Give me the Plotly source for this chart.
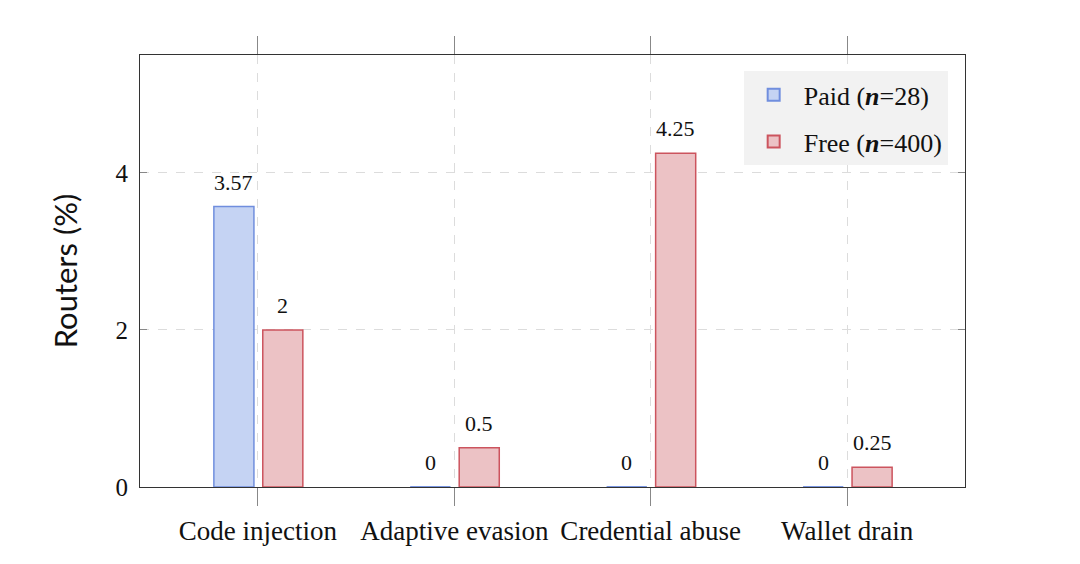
import plotly.graph_objects as go

categories = ["Code injection", "Adaptive evasion", "Credential abuse", "Wallet drain"]
paid_values = [3.57, 0, 0, 0]
free_values = [2, 0.5, 4.25, 0.25]
paid_label = "Paid (<b><i>n</i></b>=28)"
free_label = "Free (<b><i>n</i></b>=400)"
y_ticks = [0, 2, 4]

SERIF = "Liberation Serif"
BAR_W = 0.204
OFF_PAID = -0.224
OFF_FREE = 0.025

paid_fill, paid_line = "rgb(197,211,243)", "rgb(112,142,222)"
free_fill, free_line = "rgb(236,194,197)", "rgb(204,84,94)"

idx = list(range(len(categories)))
fig = go.Figure()

series = [
    (paid_label, paid_values, OFF_PAID, paid_fill, paid_line, "paid"),
    (free_label, free_values, OFF_FREE, free_fill, free_line, "free"),
]
annotations = []
for name, vals, off, fill, line, grp in series:
    fig.add_trace(go.Bar(
        x=idx, y=vals, name=name, width=BAR_W, offset=off, legendgroup=grp,
        marker=dict(color=fill, line=dict(color=line, width=1.5)),
    ))
    # zero-height bars drawn as thin lines along the baseline
    zx, zy = [], []
    for i, v in zip(idx, vals):
        if v == 0:
            zx += [i + off, i + off + BAR_W, None]
            zy += [v, v, None]
    if zx:
        fig.add_trace(go.Scatter(
            x=zx, y=zy, mode="lines", line=dict(color=line, width=1.5),
            showlegend=False, hoverinfo="skip", cliponaxis=False, legendgroup=grp,
        ))
    for i, v in zip(idx, vals):
        annotations.append(dict(
            x=i + off + BAR_W / 2, y=v, xref="x", yref="y",
            text=f"{v:g}", showarrow=False, yanchor="bottom", yshift=10,
            font=dict(family=SERIF, size=22, color="#111"),
        ))

fig.update_layout(
    width=1080, height=564,
    margin=dict(l=132, r=123, t=47, b=85),
    paper_bgcolor="white", plot_bgcolor="white",
    barmode="overlay",
    annotations=annotations,
    font=dict(family=SERIF, size=24, color="#111"),
    legend=dict(
        x=0.979, y=0.962, xanchor="right", yanchor="top",
        bgcolor="#f2f2f2", borderwidth=0,
        font=dict(family=SERIF, size=26, color="#111"),
        itemsizing="constant", itemwidth=50,
        traceorder="grouped", tracegroupgap=10,
    ),
    showlegend=True,
)
fig.update_xaxes(
    range=[-0.6, 3.6], tickmode="array", tickvals=idx, ticktext=categories,
    showline=True, linecolor="#333", linewidth=1.2, mirror="all",
    ticks="outside", ticklen=18, tickcolor="#888", tickwidth=1,
    showgrid=True, gridcolor="#dcdcdc", griddash="dash", gridwidth=1,
    zeroline=False, layer="below traces",
    tickfont=dict(family=SERIF, size=27, color="#111"),
    ticklabelstandoff=1,
)
fig.update_yaxes(
    range=[0, 5.5], tickmode="array", tickvals=y_ticks,
    showline=True, linecolor="#333", linewidth=1.2, mirror="all",
    ticks="inside", ticklen=7, tickcolor="#888", tickwidth=1,
    showgrid=True, gridcolor="#dcdcdc", griddash="dash", gridwidth=1,
    zeroline=False, layer="below traces",
    tickfont=dict(family=SERIF, size=25, color="#111"),
    ticklabelstandoff=6,
    title=dict(text="Routers (%)", font=dict(family="Lato", size=31, color="#111"), standoff=28),
)

fig.write_html("out.html")
